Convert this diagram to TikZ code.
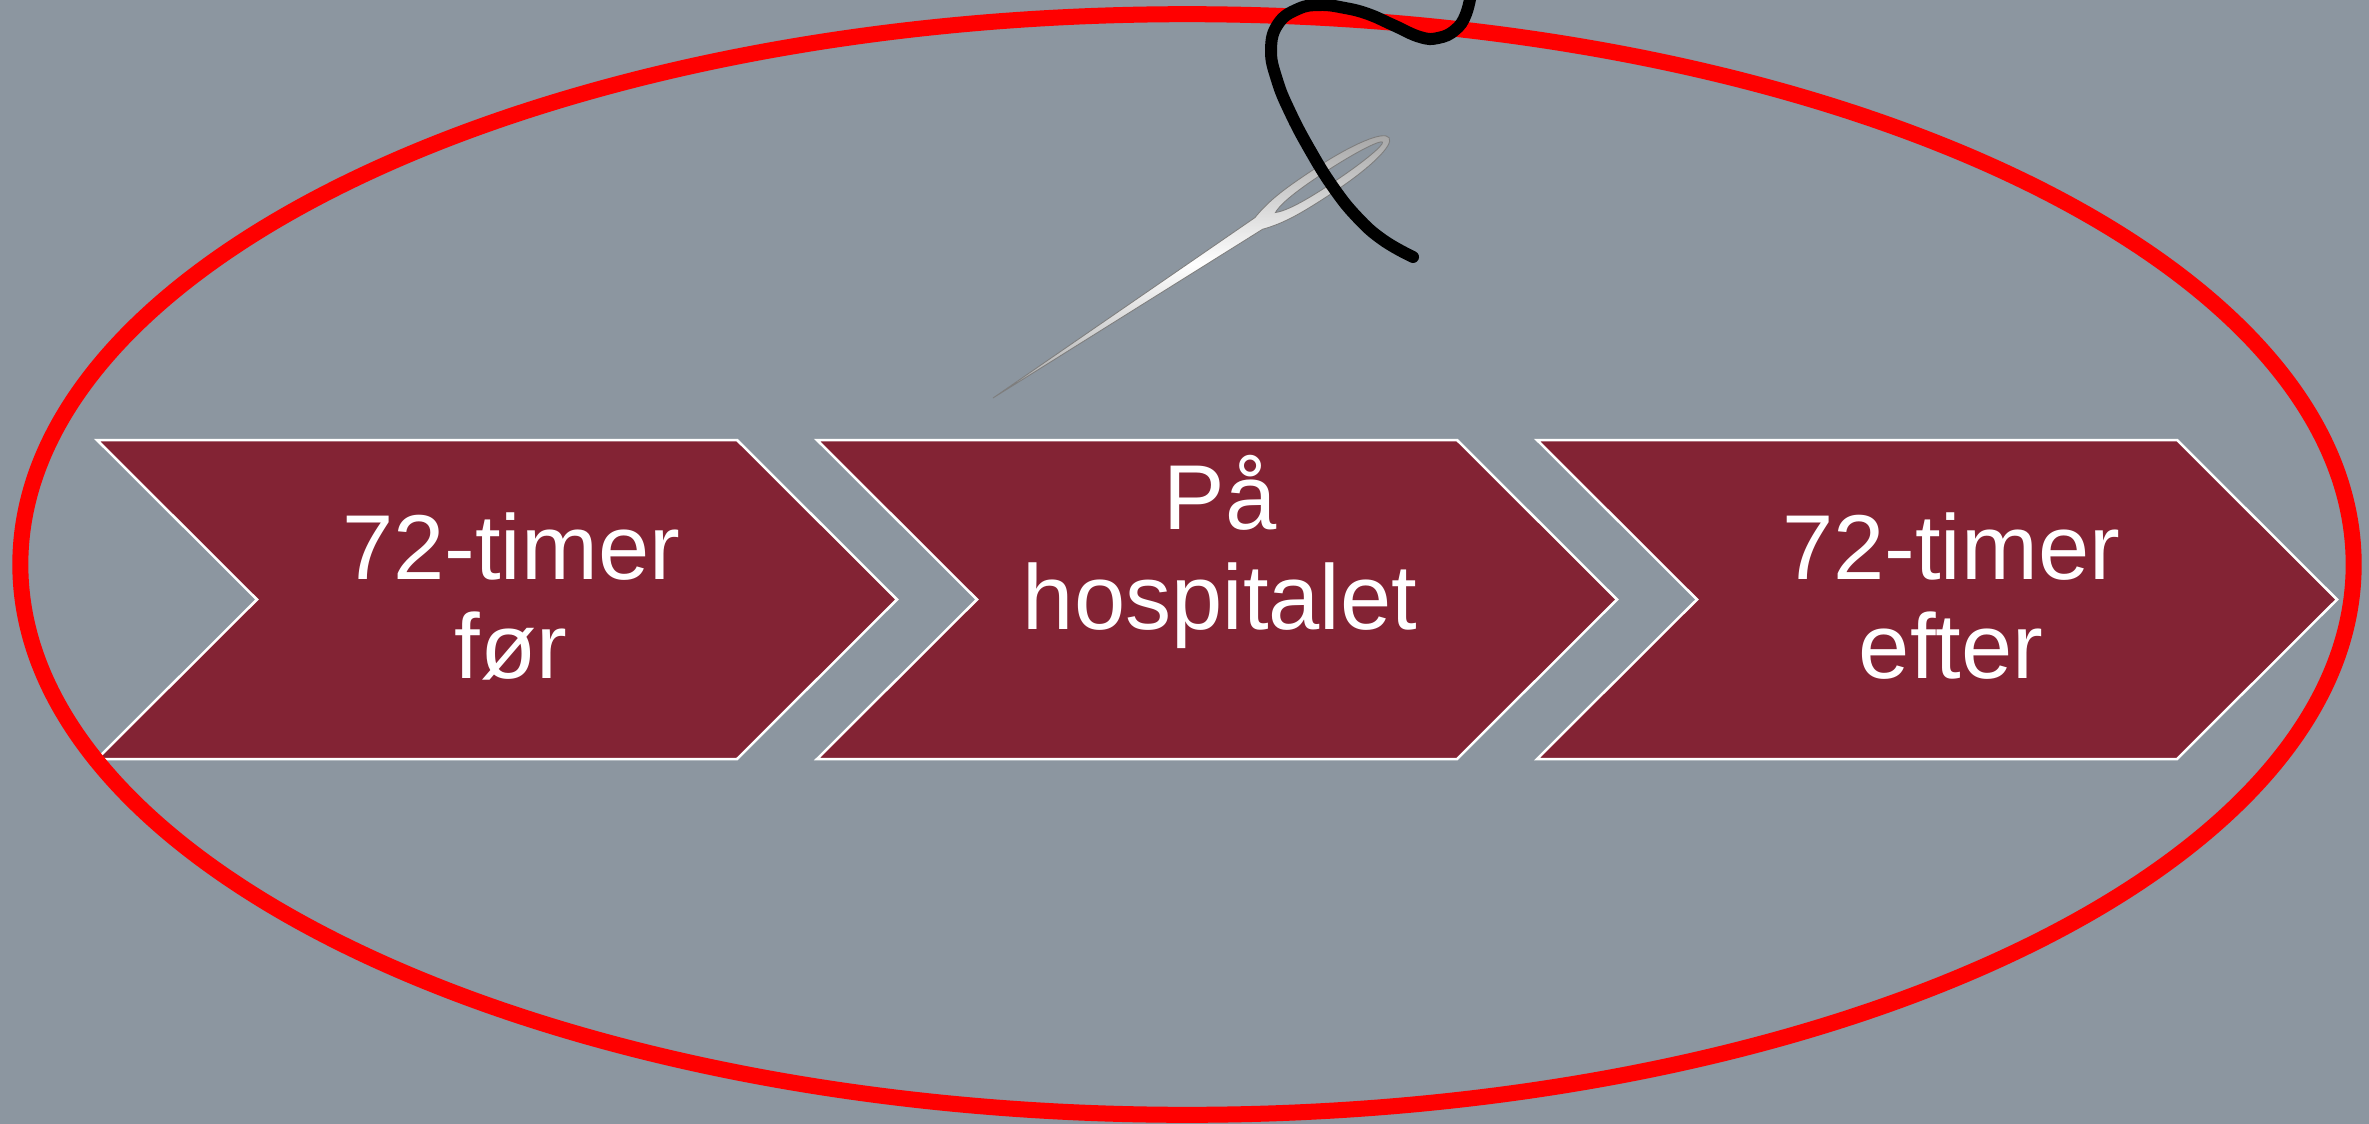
\documentclass[tikz,border=0pt]{standalone}
\usepackage{fontspec}
\setmainfont{Liberation Sans}
\definecolor{bgslate}{HTML}{8C96A0}
\definecolor{wine}{HTML}{832334}
\definecolor{ringred}{HTML}{FF0000}
\definecolor{steeldark}{HTML}{A4A4A4}
\definecolor{steeledge}{HTML}{7E7E7E}
\tikzset{
  chevronbox/.style={fill=wine, draw=white, line width=0.025cm, line join=miter},
  steplabel/.style={text=white, inner sep=0pt, anchor=base,
    font=\fontsize{26.2}{28.3}\selectfont},
  ring/.style={draw=ringred, line width=0.16cm},
  thread/.style={draw=black, line width=0.12cm, line cap=round, line join=round},
  needlebody/.style={even odd rule, top color=steeldark, bottom color=steeldark,
    middle color=white, draw=steeledge, line width=0.25pt},
}
\newcommand{\stacklines}[2]{\setlength{\tabcolsep}{0pt}\begin{tabular}[t]{c}#1\\#2\end{tabular}}
\begin{document}
\begin{tikzpicture}[x=0.01cm, y=-0.01cm]
  % canvas
  \fill[bgslate] (0,0) rectangle (2369,1124);
  \useasboundingbox (0,0) rectangle (2369,1124);
  \clip (0,0) rectangle (2369,1124);

  % three process chevrons
  \foreach \L in {97, 817, 1537} {
    \path[chevronbox] (\L,440) -- ++(640,0) -- ++(160,159.5) -- ++(-160,159.5)
      -- ++(-640,0) -- ++(160,-159.5) -- cycle;
  }

  % labels
  \node[steplabel] (before) at (511,579) {\stacklines{72-timer}{før}};
  \node[steplabel, font=\fontsize{26.2}{28.5}\selectfont] (during) at (1220,529) {\stacklines{På}{hospitalet}};
  \node[steplabel] (after) at (1951,579) {\stacklines{72-timer}{efter}};

  % red ring round everything
  \draw[ring] (1187,564.5) ellipse [x radius=11.66cm, y radius=5.5cm];

  % needle, drawn along its own axis (u from the point to the eye end)
  \begin{scope}[shift={(993,398)}, rotate=33.3]
    \shade[needlebody]
      (0,0) -- (318,-7)
      .. controls (340,-14) and (360,-15) .. (397,-15)
      .. controls (440,-15) and (474,-9) .. (474,0)
      .. controls (474,9) and (440,15) .. (397,15)
      .. controls (360,15) and (340,14) .. (318,7)
      -- cycle
      (338,0) .. controls (350,-6) and (380,-6.5) .. (400,-6.5)
      .. controls (440,-6.5) and (466,-3) .. (466,0)
      .. controls (466,3) and (440,6.5) .. (400,6.5)
      .. controls (380,6.5) and (350,6) .. (338,0) -- cycle;
  \end{scope}

  % thread running through the eye
  \draw[thread] plot[smooth, tension=0.75] coordinates {(1413,257) (1383,240) (1357,217)
      (1333,187) (1310,150) (1290,112) (1277,80) (1271,50) (1278,24) (1298,9) (1320,5)
      (1345,8) (1368,14) (1393,25) (1420,37) (1438,38) (1455,30) (1466,14) (1472,-12)};
\end{tikzpicture}
\end{document}
